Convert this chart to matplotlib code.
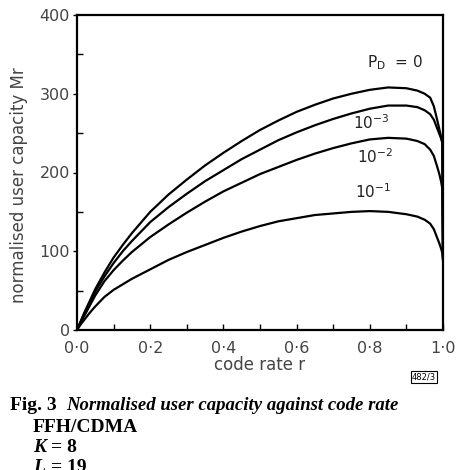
import numpy as np
import matplotlib.pyplot as plt

# code rate r and normalised user capacity Mr
r = [0.0, 0.01, 0.02, 0.035, 0.05, 0.075, 0.1, 0.125, 0.15, 0.2, 0.25, 0.3,
     0.35, 0.4, 0.45, 0.5, 0.55, 0.6, 0.65, 0.7, 0.75, 0.8, 0.85, 0.9,
     0.93, 0.95, 0.965, 0.975, 0.985, 0.99, 0.995, 0.998, 1.0]
mr_p0 = [0, 11, 22, 37, 52, 73, 92, 108, 123, 150, 172, 191,
         209, 225, 240, 254, 266, 277, 286, 294, 300, 305, 308, 307,
         304, 300, 295, 284, 265, 255, 245, 238, 90]
mr_1e3 = [0, 10.5, 21, 35, 49, 68, 85, 100, 113, 137, 156, 173,
          189, 203, 217, 229, 241, 251, 260, 268, 275, 281, 285, 285,
          283, 279, 274, 267, 255, 249, 243, 238, 90]
mr_1e2 = [0, 9, 18, 31, 44, 62, 76, 88, 99, 118, 134, 149,
          163, 176, 187, 198, 207, 216, 224, 231, 237, 242, 244, 243,
          240, 236, 229, 221, 206, 198, 188, 180, 90]
mr_1e1 = [0, 7, 13, 22, 30, 42, 51, 58, 65, 77, 89, 99,
          108, 117, 125, 132, 138, 142, 146, 148, 150, 151, 150, 147,
          144, 140, 135, 128, 116, 110, 103, 98, 90]

curve_labels = ["$\\mathregular{P_D}$  = 0", "10$^{-3}$", "10$^{-2}$", "10$^{-1}$"]
label_pos = [(0.87, 340), (0.805, 263), (0.815, 220), (0.81, 176)]

fig = plt.figure(figsize=(4.61, 4.70), dpi=100)
ax = fig.add_axes([77 / 461, 140 / 470, 366 / 461, 315 / 470])

for ys in (mr_p0, mr_1e3, mr_1e2, mr_1e1):
    ax.plot(r, ys, color="black", lw=1.6, solid_joinstyle="round")

for txt, (x, y) in zip(curve_labels, label_pos):
    ax.text(x, y, txt, ha="center", va="center", fontsize=11, color="#222222")

ax.set_xlim(0, 1.0)
ax.set_ylim(0, 400)
ax.set_xticks(np.arange(0, 1.01, 0.2))
ax.set_xticklabels(["0·0", "0·2", "0·4", "0·6", "0·8", "1·0"])
ax.set_xticks(np.arange(0.1, 1.0, 0.2), minor=True)
ax.set_yticks([0, 100, 200, 300, 400])
ax.set_yticks([50, 150, 250, 350], minor=True)
ax.tick_params(which="both", direction="in", length=4, width=1, labelsize=11.5,
               colors="black", labelcolor="#444444")
ax.tick_params(axis="x", pad=8)
ax.tick_params(axis="y", which="major", direction="out", length=3, pad=2)
for s in ax.spines.values():
    s.set_linewidth(1.6)

ax.set_xlabel("code rate r", fontsize=12, color="#444444", labelpad=0)
ax.set_ylabel("normalised user capacity Mr", fontsize=12, color="#444444")
ax.yaxis.set_label_coords(-0.135, 0.46)

fig.text(424 / 461, 1 - 377 / 470, "482/3", fontsize=6, ha="center", va="center",
         bbox=dict(boxstyle="square,pad=0.15", fc="white", ec="black", lw=0.8))

serif = "Liberation Serif"
fig.text(10 / 461, 1 - 405 / 470, "Fig. 3", fontsize=14, fontweight="bold",
         family=serif, va="center")
fig.text(66 / 461, 1 - 405 / 470, "Normalised user capacity against code rate",
         fontsize=13.5, fontstyle="italic", fontweight="bold", family=serif,
         va="center")
fig.text(33 / 461, 1 - 427 / 470, "FFH/CDMA", fontsize=14, fontweight="bold",
         family=serif, va="center")
fig.text(33 / 461, 1 - 447 / 470, "K", fontsize=14, fontweight="bold",
         fontstyle="italic", family=serif, va="center")
fig.text(51 / 461, 1 - 447 / 470, "= 8", fontsize=14, fontweight="bold",
         family=serif, va="center")
fig.text(33 / 461, 1 - 468 / 470, "L", fontsize=14, fontweight="bold",
         fontstyle="italic", family=serif, va="center")
fig.text(51 / 461, 1 - 468 / 470, "= 19", fontsize=14, fontweight="bold",
         family=serif, va="center")

fig.savefig("out.png", dpi=100)
